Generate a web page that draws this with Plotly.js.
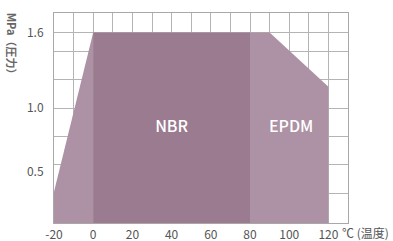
<!DOCTYPE html>
<html>
<head>
<meta charset="utf-8">
<script src="https://cdn.plot.ly/plotly-3.0.1.min.js"></script>
<style>html,body{margin:0;padding:0;background:#fff;}#chart{width:393px;height:241px;}</style>
</head>
<body>
<div id="chart"></div>
<script>
// Temperature (°C) vs pressure (MPa) operating ranges
const rampX = [-20, 0];
const rampY = [0.34, 1.6];
const nbrX = [0, 80];
const nbrY = [1.6, 1.6];
const epdmX = [80, 90, 120];
const epdmY = [1.6, 1.6, 1.17];
const xTickVals = [-20, -10, 0, 10, 20, 30, 40, 50, 60, 70, 80, 90, 100, 110, 120, 130];
const xTickText = ['-20', '', '0', '', '20', '', '40', '', '60', '', '80', '', '100', '', '120', ''];
const yTickVals = [0.5, 1.0, 1.6];
const yTickText = ['0.5', '1.0', '1.6'];
const yGridVals = [0.325, 0.556, 0.775, 1.0, 1.225, 1.45, 1.6];
const labels = ['NBR', 'EPDM'];
const labelX = [40, 101];
const labelY = [0.845, 0.845];

const light = '#ad91a4';
const dark = '#9a7b8f';
const fontFam = '"Noto Sans CJK JP", "Noto Sans", sans-serif';

const traces = [
  {x: rampX, y: rampY, type: 'scatter', mode: 'lines', fill: 'tozeroy',
   fillcolor: light, line: {width: 0, color: light}, hoverinfo: 'skip'},
  {x: epdmX, y: epdmY, type: 'scatter', mode: 'lines', fill: 'tozeroy',
   fillcolor: light, line: {width: 0, color: light}, hoverinfo: 'skip'},
  {x: nbrX, y: nbrY, type: 'scatter', mode: 'lines', fill: 'tozeroy',
   fillcolor: dark, line: {width: 0, color: dark}, hoverinfo: 'skip'},
  {x: labelX, y: labelY, type: 'scatter', mode: 'text', text: labels,
   textfont: {family: fontFam, size: 16, color: '#ffffff', weight: 500},
   textposition: 'middle center', hoverinfo: 'skip'},
  {x: [null], y: [null], yaxis: 'y2', type: 'scatter', mode: 'none', hoverinfo: 'skip'}
];

const layout = {
  width: 393, height: 241,
  margin: {l: 54, r: 45, t: 13, b: 18},
  paper_bgcolor: '#ffffff', plot_bgcolor: '#ffffff',
  showlegend: false,
  font: {family: fontFam, size: 12, color: '#555555'},
  xaxis: {
    range: [-20, 130], tickmode: 'array', tickvals: xTickVals, ticktext: xTickText,
    showgrid: true, gridcolor: '#b4b4b4', gridwidth: 1, zeroline: false,
    showline: true, mirror: true, linecolor: '#a8a8a8', linewidth: 1,
    ticks: '', ticklabelstandoff: 1, fixedrange: true
  },
  yaxis: {
    range: [0.092, 1.754], tickmode: 'array', tickvals: yTickVals, ticktext: yTickText,
    showgrid: false, zeroline: false,
    showline: true, mirror: true, linecolor: '#a8a8a8', linewidth: 1,
    ticks: '', ticklabelstandoff: 7, fixedrange: true
  },
  yaxis2: {
    overlaying: 'y', side: 'right', range: [0.092, 1.754],
    tickmode: 'array', tickvals: yGridVals, showticklabels: false,
    showgrid: true, gridcolor: '#b4b4b4', gridwidth: 1, zeroline: false,
    showline: false, ticks: '', fixedrange: true
  },
  annotations: [
    {text: 'MPa（圧力）', xref: 'paper', yref: 'paper', x: -0.143, y: 0.84,
     textangle: 90, showarrow: false, xanchor: 'center', yanchor: 'middle',
     font: {family: fontFam, size: 11, color: '#666666', weight: 600}},
    {text: '℃ (温度)', xref: 'paper', yref: 'paper', x: 0.972, y: -0.046,
     showarrow: false, xanchor: 'left', yanchor: 'middle',
     font: {family: fontFam, size: 12, color: '#555555'}}
  ]
};

Plotly.newPlot('chart', traces, layout, {staticPlot: true, displayModeBar: false});
</script>
</body>
</html>
